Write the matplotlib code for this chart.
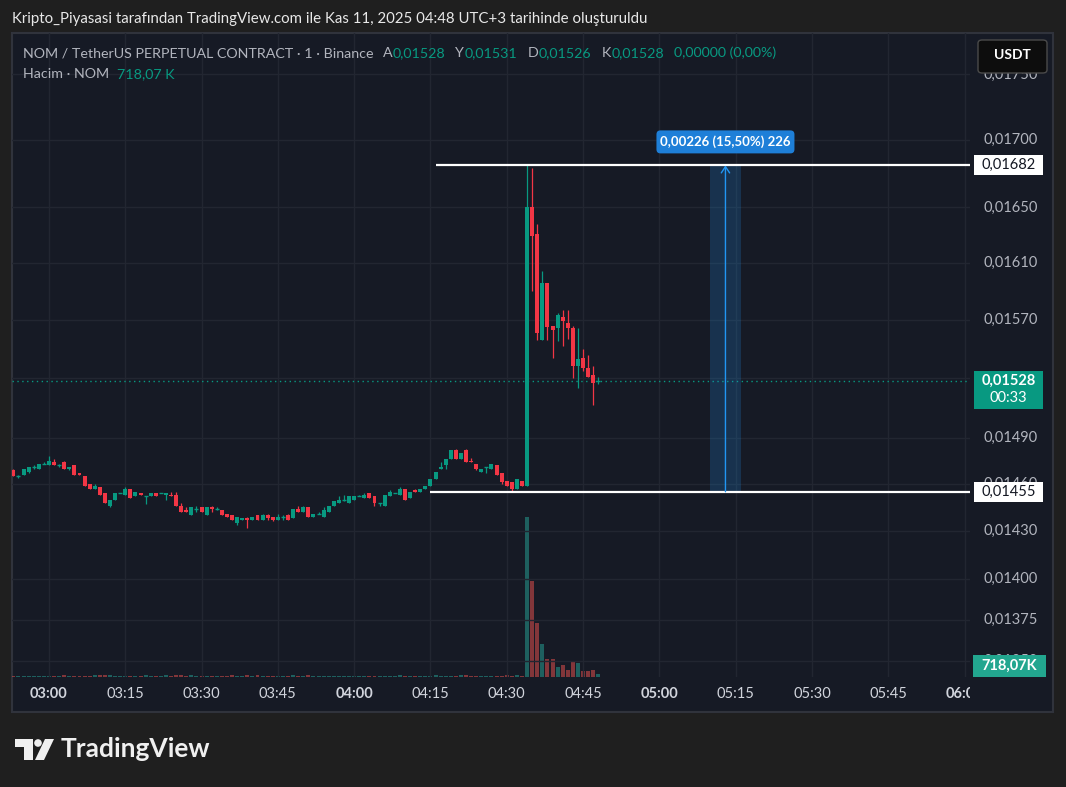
import matplotlib
matplotlib.use("Agg")
import matplotlib.pyplot as plt
import matplotlib.transforms as mtransforms
from matplotlib.patches import Rectangle, FancyBboxPatch, Polygon, Circle
import numpy as np

# ---------------- data (1-minute candles, NOM/USDT perp, 02:53 .. 04:48) ----------------
first_minute = -7   # 02:53 expressed as minutes relative to 03:00

opens = [0.01469, 0.01465, 0.01466, 0.01468, 0.01471, 0.01470, 0.01473, 0.01472, 0.01474, 0.01472,
         0.01474, 0.01470, 0.01472, 0.01467, 0.01465, 0.01460, 0.01457, 0.01458, 0.01454, 0.01446,
         0.01450, 0.01454, 0.01453, 0.01457, 0.01452, 0.01454, 0.01452, 0.01452, 0.01454, 0.01454,
         0.01453, 0.01453, 0.01453, 0.01446, 0.01443, 0.01440, 0.01444, 0.01445, 0.01440, 0.01445,
         0.01444, 0.01443, 0.01441, 0.01440, 0.01435, 0.01437, 0.01438, 0.01437, 0.01440, 0.01437,
         0.01440, 0.01439, 0.01437, 0.01439, 0.01440, 0.01438, 0.01444, 0.01442, 0.01445, 0.01439,
         0.01441, 0.01439, 0.01442, 0.01446, 0.01448, 0.01450, 0.01448, 0.01450, 0.01452, 0.01451,
         0.01454, 0.01452, 0.01448, 0.01446, 0.01452, 0.01454, 0.01453, 0.01457, 0.01451, 0.01456,
         0.01455, 0.01457, 0.01459, 0.01463, 0.01470, 0.01472, 0.01476, 0.01482, 0.01476, 0.01482,
         0.01475, 0.01473, 0.01468, 0.01471, 0.01470, 0.01472, 0.01467, 0.01462, 0.01461, 0.01457,
         0.01462, 0.01459, 0.01650, 0.01631, 0.01556, 0.01596, 0.01566, 0.01564, 0.01572, 0.01568,
         0.01564, 0.01538, 0.01544, 0.01537, 0.01532, 0.01528]
highs = [0.01470, 0.01466, 0.01470, 0.01471, 0.01472, 0.01473, 0.01474, 0.01478, 0.01476, 0.01473,
         0.01475, 0.01471, 0.01472, 0.01467, 0.01465, 0.01460, 0.01460, 0.01458, 0.01454, 0.01450,
         0.01454, 0.01454, 0.01458, 0.01457, 0.01455, 0.01454, 0.01452, 0.01454, 0.01454, 0.01454,
         0.01454, 0.01455, 0.01455, 0.01448, 0.01445, 0.01445, 0.01446, 0.01445, 0.01445, 0.01446,
         0.01445, 0.01443, 0.01441, 0.01440, 0.01439, 0.01438, 0.01439, 0.01439, 0.01440, 0.01441,
         0.01441, 0.01439, 0.01441, 0.01440, 0.01441, 0.01444, 0.01446, 0.01446, 0.01445, 0.01441,
         0.01442, 0.01445, 0.01446, 0.01449, 0.01452, 0.01453, 0.01452, 0.01452, 0.01453, 0.01454,
         0.01454, 0.01452, 0.01448, 0.01453, 0.01456, 0.01454, 0.01458, 0.01457, 0.01455, 0.01457,
         0.01457, 0.01459, 0.01463, 0.01468, 0.01474, 0.01476, 0.01482, 0.01483, 0.01480, 0.01483,
         0.01477, 0.01473, 0.01470, 0.01471, 0.01473, 0.01472, 0.01467, 0.01462, 0.01461, 0.01463,
         0.01462, 0.01681, 0.01679, 0.01638, 0.01604, 0.01596, 0.01566, 0.01575, 0.01577, 0.01577,
         0.01566, 0.01564, 0.01550, 0.01546, 0.01538, 0.01531]
lows = [0.01465, 0.01464, 0.01466, 0.01467, 0.01470, 0.01470, 0.01473, 0.01472, 0.01472, 0.01471,
        0.01470, 0.01469, 0.01466, 0.01466, 0.01459, 0.01457, 0.01457, 0.01453, 0.01448, 0.01445,
        0.01450, 0.01454, 0.01453, 0.01451, 0.01452, 0.01453, 0.01447, 0.01452, 0.01452, 0.01454,
        0.01450, 0.01452, 0.01446, 0.01442, 0.01442, 0.01440, 0.01442, 0.01442, 0.01440, 0.01442,
        0.01443, 0.01440, 0.01439, 0.01437, 0.01434, 0.01437, 0.01432, 0.01437, 0.01437, 0.01437,
        0.01437, 0.01436, 0.01437, 0.01437, 0.01437, 0.01438, 0.01442, 0.01442, 0.01439, 0.01439,
        0.01441, 0.01439, 0.01442, 0.01446, 0.01448, 0.01449, 0.01448, 0.01450, 0.01452, 0.01451,
        0.01451, 0.01446, 0.01446, 0.01446, 0.01452, 0.01454, 0.01453, 0.01450, 0.01451, 0.01455,
        0.01455, 0.01457, 0.01459, 0.01463, 0.01470, 0.01470, 0.01476, 0.01476, 0.01476, 0.01474,
        0.01474, 0.01469, 0.01468, 0.01467, 0.01470, 0.01466, 0.01460, 0.01459, 0.01455, 0.01457,
        0.01459, 0.01459, 0.01590, 0.01556, 0.01556, 0.01556, 0.01544, 0.01555, 0.01552, 0.01557,
        0.01530, 0.01523, 0.01535, 0.01531, 0.01512, 0.01526]
closes = [0.01465, 0.01465, 0.01470, 0.01471, 0.01471, 0.01473, 0.01473, 0.01475, 0.01472, 0.01472,
          0.01470, 0.01471, 0.01466, 0.01466, 0.01459, 0.01457, 0.01459, 0.01453, 0.01448, 0.01450,
          0.01454, 0.01454, 0.01457, 0.01451, 0.01455, 0.01453, 0.01452, 0.01454, 0.01452, 0.01454,
          0.01454, 0.01452, 0.01446, 0.01442, 0.01442, 0.01445, 0.01444, 0.01442, 0.01445, 0.01444,
          0.01444, 0.01440, 0.01439, 0.01437, 0.01439, 0.01438, 0.01437, 0.01439, 0.01437, 0.01440,
          0.01438, 0.01437, 0.01439, 0.01439, 0.01437, 0.01444, 0.01442, 0.01445, 0.01439, 0.01441,
          0.01441, 0.01443, 0.01446, 0.01449, 0.01450, 0.01450, 0.01452, 0.01452, 0.01452, 0.01453,
          0.01451, 0.01448, 0.01448, 0.01453, 0.01455, 0.01454, 0.01457, 0.01450, 0.01455, 0.01455,
          0.01457, 0.01459, 0.01463, 0.01468, 0.01471, 0.01476, 0.01482, 0.01476, 0.01480, 0.01474,
          0.01474, 0.01470, 0.01470, 0.01471, 0.01473, 0.01466, 0.01461, 0.01459, 0.01457, 0.01463,
          0.01459, 0.01650, 0.01629, 0.01561, 0.01596, 0.01565, 0.01563, 0.01573, 0.01569, 0.01564,
          0.01538, 0.01543, 0.01537, 0.01531, 0.01527, 0.01528]
volumes_k = [310, 240, 280, 260, 220, 300, 250, 330, 280, 240,
             620, 260, 300, 250, 330, 290, 600, 580, 640, 560,
             300, 260, 280, 240, 270, 250, 610, 280, 260, 250,
             590, 270, 620, 640, 300, 580, 260, 280, 240, 290,
             250, 270, 300, 600, 280, 260, 620, 300, 580, 250,
             270, 240, 260, 300, 280, 630, 260, 290, 600, 270,
             250, 280, 300, 260, 290, 240, 270, 250, 300, 280,
             260, 290, 240, 280, 300, 270, 610, 250, 280, 300,
             260, 280, 290, 640, 300, 270, 260, 280, 620, 600,
             280, 300, 250, 270, 290, 260, 310, 590, 330, 640,
             300, 45900, 27500, 15500, 9500, 5200, 5200, 2900, 3400, 2000,
             4600, 4000, 1700, 1700, 2000, 718.07]

price_ticks = [0.01750, 0.01700, 0.01650, 0.01610, 0.01570, 0.01530, 0.01490,
               0.01460, 0.01430, 0.01400, 0.01375, 0.01350]
price_tick_hidden = [0.01530]
time_tick_minutes = [0, 15, 30, 45, 60, 75, 90, 105, 120, 135, 150, 165, 180]
time_tick_labels = ["03:00", "03:15", "03:30", "03:45", "04:00", "04:15", "04:30",
                    "04:45", "05:00", "05:15", "05:30", "05:45", "06:00"]
bold_labels = ["03:00", "04:00", "05:00", "06:00"]

level_high = 0.01681
level_low = 0.01455
last_price = 0.01528
range_start_min, range_end_min = 130, 136
level_high_start, level_low_start = 76, 75

title = "Kripto_Piyasasi tarafından TradingView.com ile Kas 11, 2025 04:48 UTC+3 tarihinde oluşturuldu"
symbol_label = "NOM / TetherUS PERPETUAL CONTRACT · 1 · Binance"
ohlc_pieces = [("A", "0,01528"), ("Y", "0,01531"), ("D", "0,01526"), ("K", "0,01528")]
change_label = "0,00000 (0,00%)"

# ---------------- style ----------------
W, H = 1066, 787
BG_OUT = "#1f1f1f"
BG = "#161a25"
GRID = "#222631"
UP = "#089981"
DN = "#f23645"
TXT = "#b2b5be"
FONT = ["Lato", "DejaVu Sans"]
plt.rcParams["font.family"] = FONT


def fx(x):
    return x / W


def fy(y):
    return 1 - y / H


fig = plt.figure(figsize=(W / 100, H / 100), dpi=100, facecolor=BG_OUT)
renderer = fig.canvas.get_renderer()

panel = Rectangle((fx(12), fy(712)), fx(1053) - fx(12), fy(33) - fy(712),
                  transform=fig.transFigure, facecolor=BG, edgecolor="#30333c",
                  lw=1.5, zorder=-5)
fig.add_artist(panel)

# volume axes (behind) and price axes (front)
ax_vol = fig.add_axes([fx(12), fy(677), fx(970) - fx(12), fy(33) - fy(677)])
ax = ax_vol.twinx()
for a in (ax, ax_vol):
    a.patch.set_visible(False)
    for s in a.spines.values():
        s.set_visible(False)
    a.set_xticks([])
    a.set_yticks([])
ax.set_yscale("log")
ax.set_ylim(0.013405, 0.017824)
ax.yaxis.set_minor_locator(matplotlib.ticker.NullLocator())
ax.set_yticks([])
ax_vol.set_xlim(-7.27, 181.08)
ax_vol.set_ylim(0, 184700)

n = len(closes)
t = np.arange(n) + first_minute
o = np.array(opens)
c = np.array(closes)
hi = np.array(highs)
lo = np.array(lows)
up = c >= o
cols = np.where(up, UP, DN)

# grid
for p in price_ticks:
    ax.axhline(p, color=GRID, lw=1, zorder=0)
for m in time_tick_minutes:
    ax.axvline(m, color=GRID, lw=1, zorder=0)

# volume bars
vcols = [(38 / 255, 166 / 255, 154 / 255, 0.5) if u else (239 / 255, 83 / 255, 80 / 255, 0.5) for u in up]
ax_vol.bar(t, volumes_k, width=0.78, color=vcols, linewidth=0)

# candles
ax.vlines(t, lo, hi, colors=cols, lw=0.9, zorder=3)
body_lo = np.minimum(o, c)
body_h = np.abs(c - o)
ax.bar(t, body_h, bottom=body_lo, width=0.78, color=cols, linewidth=0, zorder=4)
doji = body_h < 1e-9
ax.hlines(o[doji], t[doji] - 0.39, t[doji] + 0.39, colors=cols[doji], lw=1, zorder=4)

# current price dotted line
ax.axhline(last_price, color=UP, lw=1, ls=(0, (1, 2.5)), zorder=2)

# horizontal rays
xr = ax_vol.get_xlim()[1]
ax.hlines(level_high, level_high_start, xr, color="white", lw=1.6, zorder=6)
ax.hlines(level_low, level_low_start, xr, color="white", lw=1.6, zorder=6)

# price range measurement
ax.add_patch(Rectangle((range_start_min, level_low), range_end_min - range_start_min,
                       level_high - level_low, facecolor=(33 / 255, 150 / 255, 243 / 255, 0.2),
                       edgecolor="none", zorder=5))
mid = (range_start_min + range_end_min) / 2
ax.annotate("", xy=(mid, level_high), xytext=(mid, level_low),
            arrowprops=dict(arrowstyle="->,head_width=0.3,head_length=0.45", color="#2196f3",
                            lw=1, shrinkA=0, shrinkB=0), zorder=7)


def disp_y(price):
    return ax.transData.transform((0, price))[1]


def disp_x(minute):
    return ax.transData.transform((minute, level_low))[0]


yh = disp_y(level_high)
xm = disp_x(mid)
lab = FancyBboxPatch((xm - 69, yh + 12), 138, 23, boxstyle="round,pad=0,rounding_size=4",
                     transform=None, facecolor="#1e7fd8", edgecolor="none", zorder=10)
fig.add_artist(lab)
fig.text(xm / W, (yh + 23.5) / H, "0,00226 (15,50%) 226", color="white", fontsize=9.5,
         fontweight="bold", ha="center", va="center", zorder=11)

# time axis
ax_t = fig.add_axes([fx(12), fy(712), fx(970) - fx(12), fy(677) - fy(712)], sharex=ax_vol)
ax_t.axis("off")
tr_t = mtransforms.blended_transform_factory(ax_t.transData, ax_t.transAxes)
for m, lbl in zip(time_tick_minutes, time_tick_labels):
    ax_t.text(m, 0.5, lbl, transform=tr_t, ha="center", va="center", color="#d1d4dc",
              fontsize=10.5, fontweight="bold" if lbl in bold_labels else "normal", clip_on=True)

# price scale
for p in price_ticks:
    if p in price_tick_hidden:
        continue
    fig.text(fx(984), disp_y(p) / H, ("%.5f" % p).replace(".", ","), color=TXT, fontsize=10.5,
             ha="left", va="center", zorder=2)


def price_box(price, text, face, tcol, weight="normal"):
    y = disp_y(price)
    fig.add_artist(Rectangle((974, y - 10), 69, 20, transform=None, facecolor=face,
                             edgecolor="none", zorder=8))
    fig.text(fx(1008.5), y / H, text, color=tcol, fontsize=10.5, fontweight=weight,
             ha="center", va="center", zorder=9)


price_box(level_high, "0,01682", "white", "#131722")
price_box(level_low, "0,01455", "white", "#131722")

yl = disp_y(last_price)
fig.add_artist(Rectangle((974, yl - 28), 69, 38, transform=None, facecolor=UP,
                         edgecolor="none", zorder=8))
fig.text(fx(1008.5), yl / H, "0,01528", color="white", fontsize=10.5, fontweight="bold",
         ha="center", va="center", zorder=9)
fig.text(fx(1008.5), (yl - 17) / H, "00:33", color="white", fontsize=10.5,
         ha="center", va="center", zorder=9)

# volume label
fig.add_artist(Rectangle((fx(973), fy(677)), fx(1046) - fx(973), fy(655) - fy(677),
                         transform=fig.transFigure, facecolor="#22a68f", edgecolor="none", zorder=8))
fig.text(fx(1009.5), fy(666), "718,07K", color="white", fontsize=10.5, fontweight="bold",
         ha="center", va="center", zorder=9)

# USDT button
fig.add_artist(FancyBboxPatch((fx(978), fy(73)), fx(1047) - fx(978), fy(40) - fy(73),
                              boxstyle="round,pad=0,rounding_size=0.004", transform=fig.transFigure,
                              facecolor="#0d0d0d", edgecolor="#4a4a4a", lw=1, zorder=8))
fig.text(fx(1012.5), fy(55), "USDT", color="white", fontsize=10, fontweight="bold",
         ha="center", va="center", zorder=9)

# title
fig.text(fx(12), fy(19), title, color="#e8e8e8", fontsize=10.8, ha="left", va="center")


# legend lines (pieces chained left to right)
def chain(x, y, s, col, gap):
    tx = fig.text(fx(x), fy(y), s, color=col, fontsize=10.3, ha="left", va="center")
    w = tx.get_window_extent(renderer=renderer).width
    return x + w + gap


x = chain(23, 53, symbol_label, TXT, 9)
for letter, val in ohlc_pieces:
    x = chain(x, 53, letter, TXT, 0.5)
    x = chain(x, 53, val, UP, 10)
chain(x, 53, change_label, UP, 0)
x = chain(23, 74, "Hacim · NOM", TXT, 8)
chain(x, 74, "718,07 K", UP, 0)

# TradingView logo
logo_col = "#f0f0f0"
fig.add_artist(Polygon([(fx(15), fy(739)), (fx(33), fy(739)), (fx(33), fy(760)), (fx(24), fy(760)),
                        (fx(24), fy(747)), (fx(15), fy(747))], closed=True, transform=fig.transFigure,
                       facecolor=logo_col, edgecolor="none"))
fig.add_artist(Circle((38, H - 743), 3.8, transform=None, facecolor=logo_col, edgecolor="none"))
fig.add_artist(Polygon([(fx(45), fy(739)), (fx(54), fy(739)), (fx(44), fy(760)), (fx(35), fy(760))],
                       closed=True, transform=fig.transFigure, facecolor=logo_col, edgecolor="none"))
fig.text(fx(61), fy(749), "TradingView", color=logo_col, fontsize=19, fontweight="bold",
         ha="left", va="center")

fig.savefig("out.png", dpi=100, facecolor=BG_OUT)
